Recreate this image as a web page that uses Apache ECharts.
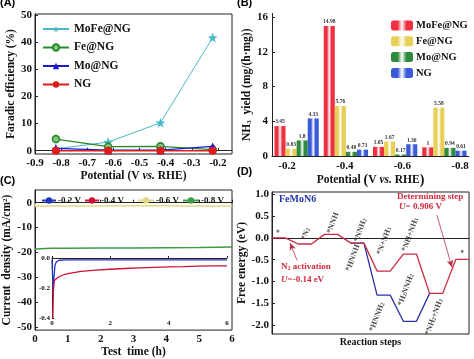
<!DOCTYPE html>
<html><head><meta charset="utf-8">
<script src="https://cdn.jsdelivr.net/npm/echarts@6/dist/echarts.min.js"></script>
<style>html,body{margin:0;padding:0;background:#fff}#c{width:474px;height:359px}</style>
</head><body><div id="c"></div>
<script>
// ---------- Panel A: Faradic efficiency ----------
const potA = [-0.82, -0.62, -0.42, -0.22];
const feMoFe = [0.7, 3.2, 10.3, 41.7];
const feFe = [4.3, 1.5, 1.6, 0.4];
const feMo = [0.9, 0.2, 0.2, 1.6];
const feNG = [0, 0, 0, 0];
// ---------- Panel B: NH3 yield ----------
const potB = ['-0.2', '-0.4', '-0.6', '-0.8'];
const yMoFe = [3.45, 14.98, 1.05, 1];
const yFe = [0.83, 5.76, 1.67, 5.58];
const yMo = [1.8, 0.48, 0.17, 0.94];
const yNG = [4.33, 0.73, 1.36, 0.61];
const potBTicks = [-0.2, -0.4, -0.6, -0.8];
// ---------- Panel C: current density ----------
const t06 = [0, 0.02, 0.1, 0.5, 1, 2, 3, 4, 4.5, 5, 5.5, 6];
const j06 = [-0.3, -1.6, -1.3, -1.3, -1.3, -1.3, -1.25, -1.25, -1.3, -1.35, -1.4, -1.35];
const t08 = [0, 0.05, 0.5, 1, 2, 3, 4, 5, 5.5, 6];
const j08 = [-18.6, -18.3, -18.3, -18.3, -18.2, -18.2, -18.1, -18.0, -17.9, -17.8];
const t02 = [0, 0.02, 0.04, 0.06, 0.1, 0.15, 0.25, 0.5, 1, 2, 3, 4, 5, 6];
const j02 = [-0.01, -0.12, -0.26, -0.15, -0.05, -0.025, -0.015, -0.012, -0.012, -0.012, -0.012, -0.012, -0.012, -0.012];
const t04 = [0.03, 0.05, 0.08, 0.12, 0.2, 0.35, 0.5, 0.75, 1, 1.5, 2, 2.5, 3, 3.5, 4, 4.5, 5, 5.5, 6];
const j04 = [-0.4, -0.2, -0.15, -0.14, -0.13, -0.115, -0.106, -0.097, -0.089, -0.081, -0.075, -0.07, -0.066, -0.062, -0.059, -0.057, -0.054, -0.053, -0.052];
// ---------- Panel D: free energy ----------
const eRed = [0, -0.14, 0.08, -0.12, -0.76, -0.37, -1.27, -0.49];
const eBlue = [null, null, null, -0.12, -1.31, -1.91, -1.27, null];
const stepNames = ['*', '*N{s|2}', '*NNH', '*NNH{s|2}', '*HNNH', '*N+NH{s|3}', '*NH+NH{s|3}', '*HNNH{s|2}', '*H{s|2}NNH{s|2}', '*NH{s|2}+NH{s|3}', '*'];
const stepLabX = [0.29, 1.29, 2.32, 3.37, 3.08, 4.27, 5.26, 4.0, 5.1, 6.17, 7.3];
const stepLabY = [0.14, 0.09, 0.34, 0.18, -0.46, -0.07, 0.07, -1.81, -1.19, -1.81, -0.32];
const arrowDet = [[6.28, 0.52], [6.85, -0.67]];
const arrowN2 = [[0.95, -0.51], [0.69, -0.12]];

const SERIF = "'Liberation Serif','Times New Roman',serif";
const lab = {fontFamily: SERIF, fontWeight: 'bold', fontSize: 11, color: '#111'};
const axLine = {show: true, lineStyle: {color: '#222', width: 1}};
const nameStyle = {fontFamily: SERIF, fontWeight: 'bold', fontSize: 11.5, color: '#111'};

function barGrad(c) {
  return {type: 'linear', x: 0, y: 0, x2: 1, y2: 0, colorStops: [
    {offset: 0, color: c}, {offset: 0.3, color: c}, {offset: 0.5, color: '#ffffff'},
    {offset: 0.7, color: c}, {offset: 1, color: c}]};
}
function zip(a, b) { return a.map((v, i) => [v, b[i]]); }

const redPath = [], bluePath = [];
eRed.forEach((e, i) => { redPath.push([i, e], [i + 0.5, e]); });
eBlue.forEach((e, i) => { if (e !== null) bluePath.push([i, e], [i + 0.5, e]); });
bluePath.pop(); // blue joins red at start of *NH2+NH3 level

const colA = {MoFe: '#4bb8c8', Fe: '#2a8a2a', Mo: '#1a1acc', NG: '#e01a1a'};
const colB = {MoFe: '#ee3040', Fe: '#e8cf55', Mo: '#2e8b3c', NG: '#3a5ad8'};

const chart = echarts.init(document.getElementById('c'), null, {renderer: 'canvas'});
const option = {
  backgroundColor: '#fff',
  animation: false,
  grid: [
    {left: 35, top: 14, width: 197, height: 140, show: true, borderColor: '#222', borderWidth: 1, backgroundColor: 'transparent'},
    {left: 272, top: 13.5, width: 197, height: 142.5},
    {left: 35, top: 190, width: 197, height: 143, show: true, borderColor: '#222', borderWidth: 1, backgroundColor: 'transparent'},
    {left: 52, top: 258, width: 175, height: 60},
    {left: 272, top: 192, width: 197, height: 142, show: true, borderColor: '#222', borderWidth: 1, backgroundColor: 'transparent'}
  ],
  xAxis: [
    {gridIndex: 0, type: 'value', min: -0.9, max: -0.146, interval: 0.1, splitLine: {show: false},
     axisLine: axLine, axisTick: {inside: true, length: 3}, axisLabel: Object.assign({margin: 4, showMaxLabel: false, formatter: v => v.toFixed(1)}, lab),
     name: '{b|Potential (V }{i|vs.}{b| RHE)}', nameLocation: 'middle', nameGap: 13,
     nameTextStyle: {rich: {b: nameStyle, i: Object.assign({}, nameStyle, {fontStyle: 'italic'})}}},
    {gridIndex: 1, type: 'category', data: potB, position: 'bottom', axisLine: axLine, axisTick: {show: false}, axisLabel: {show: false}},
    {gridIndex: 1, type: 'value', inverse: true, min: -0.831, max: -0.148, position: 'bottom', splitLine: {show: false},
     axisLine: {show: false}, axisTick: {show: false},
     axisLabel: Object.assign({margin: 5, showMinLabel: false, showMaxLabel: false,
       formatter: v => potBTicks.some(p => Math.abs(p - v) < 1e-6) ? v.toFixed(1) : ''}, lab),
     name: '{b|Potential }{p|(}{b|V }{i|vs.}{b| RHE}{p|)}', nameLocation: 'middle', nameGap: 13,
     nameTextStyle: {rich: {b: nameStyle, i: Object.assign({}, nameStyle, {fontStyle: 'italic'}), p: Object.assign({}, nameStyle, {fontSize: 14})}}},
    {gridIndex: 2, type: 'value', min: 0, max: 6, interval: 1, splitLine: {show: false},
     axisLine: axLine, axisTick: {inside: true, length: 3}, axisLabel: Object.assign({margin: 4}, lab),
     name: 'Test  time (h)', nameLocation: 'middle', nameGap: 13, nameTextStyle: nameStyle},
    {gridIndex: 3, type: 'value', min: 0, max: 6, interval: 2, splitLine: {show: false},
     axisLine: axLine, axisTick: {inside: true, length: 2},
     axisLabel: {fontFamily: SERIF, fontWeight: 'bold', fontSize: 7, color: '#111', margin: 2}},
    {gridIndex: 4, type: 'value', min: 0, max: 7.5, splitLine: {show: false},
     axisLine: axLine, axisTick: {show: false}, axisLabel: {show: false},
     name: 'Reaction steps', nameLocation: 'middle', nameGap: 3, nameTextStyle: Object.assign({}, nameStyle, {fontSize: 10})}
  ],
  yAxis: [
    {gridIndex: 0, type: 'value', min: -1.2, max: 50.4, splitLine: {show: false},
     axisLine: axLine, axisTick: {inside: true, length: 3},
     axisLabel: Object.assign({margin: 3, showMinLabel: false, showMaxLabel: false}, lab),
     name: 'Faradic efficiency (%)', nameLocation: 'middle', nameGap: 17, nameTextStyle: nameStyle},
    {gridIndex: 1, type: 'value', min: 0, max: 16.43, interval: 4, splitLine: {show: false},
     axisLine: axLine, axisTick: {inside: true, length: 3},
     axisLabel: Object.assign({margin: 4, showMaxLabel: false}, lab),
     name: 'NH{s|3}  yield (mg/(h·mg))', nameLocation: 'middle', nameGap: 16,
     nameTextStyle: {rich: {s: Object.assign({}, nameStyle, {fontSize: 7, verticalAlign: 'bottom'})}, fontFamily: SERIF, fontWeight: 'bold', fontSize: 11.5, color: '#111'}},
    {gridIndex: 2, type: 'value', min: -51.2, max: 5.1, splitLine: {show: false},
     axisLine: axLine, axisTick: {inside: true, length: 3},
     axisLabel: Object.assign({margin: 3, showMinLabel: false, showMaxLabel: false}, lab),
     name: 'Current  density (mA/cm{p|2})', nameLocation: 'middle', nameGap: 21,
     nameTextStyle: {rich: {p: Object.assign({}, nameStyle, {fontSize: 7, verticalAlign: 'top'})}, fontFamily: SERIF, fontWeight: 'bold', fontSize: 11.5, color: '#111'}},
    {gridIndex: 3, type: 'value', min: -0.4, max: 0, interval: 0.2, splitLine: {show: false},
     axisLine: axLine, axisTick: {inside: true, length: 2},
     axisLabel: {fontFamily: SERIF, fontWeight: 'bold', fontSize: 7, color: '#111', margin: 2, formatter: v => v.toFixed(1)}},
    {gridIndex: 4, type: 'value', min: -2.2, max: 1.05, splitLine: {show: false},
     axisLine: axLine, axisTick: {inside: true, length: 3},
     axisLabel: Object.assign({margin: 3, showMinLabel: false, showMaxLabel: false, formatter: v => v.toFixed(1)}, lab),
     name: 'Free energy (eV)', nameLocation: 'middle', nameGap: 24, nameTextStyle: nameStyle}
  ],
  legend: [
    {orient: 'vertical', left: 37, top: 18, itemWidth: 26, itemHeight: 8, itemGap: 6.5,
     data: ['MoFe@NG', 'Fe@NG', 'Mo@NG', 'NG'], textStyle: {fontFamily: SERIF, fontWeight: 'bold', fontSize: 11.5, color: '#111'}},
    {orient: 'vertical', left: 386, top: 15, itemWidth: 22, itemHeight: 10, itemGap: 4.8,
     data: ['MoFe@NG ', 'Fe@NG ', 'Mo@NG ', 'NG '], formatter: n => n.trim(),
     textStyle: {fontFamily: SERIF, fontWeight: 'bold', fontSize: 10.5, color: '#111', padding: [0, 0, 0, -2]}},
    {orient: 'horizontal', left: 36, top: 191, itemWidth: 14, itemHeight: 8, itemGap: 3,
     data: ['-0.2 V', '-0.4 V'], textStyle: {fontFamily: SERIF, fontWeight: 'bold', fontSize: 9, color: '#111', padding: [0, 0, 0, -3]}},
    {orient: 'horizontal', left: 132, top: 191, itemWidth: 16, itemHeight: 8, itemGap: 3,
     data: ['-0.6 V', '-0.8 V'], textStyle: {fontFamily: SERIF, fontWeight: 'bold', fontSize: 9, color: '#111', padding: [0, 0, 0, -3]}}
  ],
  series: [
    // Panel A
    {name: 'MoFe@NG', type: 'line', xAxisIndex: 0, yAxisIndex: 0, data: zip(potA, feMoFe), symbol: 'path://M0,-10L2.35,-3.24L9.51,-3.09L3.80,1.24L5.88,8.09L0,4L-5.88,8.09L-3.80,1.24L-9.51,-3.09L-2.35,-3.24Z', symbolSize: 10,
     lineStyle: {color: colA.MoFe, width: 1}, itemStyle: {color: colA.MoFe}, z: 3},
    {name: 'Fe@NG', type: 'line', xAxisIndex: 0, yAxisIndex: 0, data: zip(potA, feFe), symbol: 'circle', symbolSize: 7,
     lineStyle: {color: colA.Fe, width: 1.3}, itemStyle: {color: '#7dc67d', borderColor: colA.Fe, borderWidth: 1.6}, z: 4},
    {name: 'Mo@NG', type: 'line', xAxisIndex: 0, yAxisIndex: 0, data: zip(potA, feMo), symbol: 'triangle', symbolSize: 8,
     lineStyle: {color: colA.Mo, width: 1.3}, itemStyle: {color: colA.Mo}, z: 5},
    {name: 'NG', type: 'line', xAxisIndex: 0, yAxisIndex: 0, data: zip(potA, feNG), symbol: 'circle', symbolSize: 8,
     lineStyle: {color: colA.NG, width: 1.3}, itemStyle: {color: colA.NG}, z: 6},
    // Panel B
    ...[['MoFe@NG ', yMoFe, colB.MoFe], ['Fe@NG ', yFe, colB.Fe], ['Mo@NG ', yMo, colB.Mo], ['NG ', yNG, colB.NG]].map(([n, d, c]) => ({
      name: n, type: 'bar', xAxisIndex: 1, yAxisIndex: 1, data: d, barGap: '0%', barCategoryGap: '10%',
      itemStyle: {color: barGrad(c)},
      label: {show: true, position: 'top', distance: 1, fontFamily: SERIF, fontWeight: 'bold', fontSize: 5.5, color: '#333'}
    })),
    {type: 'scatter', xAxisIndex: 2, yAxisIndex: 1, data: [], silent: true},
    // Panel C main
    {name: '-0.6 V', type: 'line', xAxisIndex: 3, yAxisIndex: 2, data: zip(t06, j06), symbol: 'none', lineStyle: {color: '#e5d78a', width: 1.5}, itemStyle: {color: '#e5d78a'}},
    {name: '-0.8 V', type: 'line', xAxisIndex: 3, yAxisIndex: 2, data: zip(t08, j08), symbol: 'none', lineStyle: {color: '#3d9a45', width: 1.5}, itemStyle: {color: '#3d9a45'}},
    // Panel C inset
    {name: '-0.2 V', type: 'line', xAxisIndex: 4, yAxisIndex: 3, data: zip(t02, j02), symbol: 'none', lineStyle: {color: '#2233bb', width: 1.3}, itemStyle: {color: '#2233bb'}},
    {name: '-0.4 V', type: 'line', xAxisIndex: 4, yAxisIndex: 3, data: zip(t04, j04), symbol: 'none', lineStyle: {color: '#cc1133', width: 1.3}, itemStyle: {color: '#cc1133'}},
    // Panel D
    {name: 'dBlue', type: 'line', xAxisIndex: 5, yAxisIndex: 4, data: bluePath, symbol: 'none', lineStyle: {color: '#2a30a8', width: 1.3}},
    {name: 'dRed', type: 'line', xAxisIndex: 5, yAxisIndex: 4, data: redPath, symbol: 'none', lineStyle: {color: '#cc2a40', width: 1.3}, z: 3,
     markLine: {silent: true, symbol: ['none', 'arrow'], symbolSize: [5, 7], animation: false,
       lineStyle: {color: '#b8304c', width: 0.8, type: 'solid'}, label: {show: false}, emphasis: {disabled: true},
       data: [[{coord: arrowDet[0]}, {coord: arrowDet[1]}], [{coord: arrowN2[0]}, {coord: arrowN2[1]}]]}},
    {name: 'dLabels', type: 'scatter', xAxisIndex: 5, yAxisIndex: 4, symbolSize: 0, silent: true,
     data: stepNames.map((n, i) => ({value: [stepLabX[i], stepLabY[i]], name: n})),
     label: {show: true, position: 'inside', rotate: 70, formatter: p => p.name,
       fontFamily: SERIF, fontWeight: 'bold', fontSize: 8, color: '#111',
       rich: {s: {fontFamily: SERIF, fontWeight: 'bold', fontSize: 5.5, color: '#111', verticalAlign: 'bottom'}}}}
  ],
  graphic: [
    {type: 'text', left: 0, top: -3, style: {text: '(A)', font: 'bold 11px "Liberation Sans", Arial, sans-serif', fill: '#000'}},
    {type: 'text', left: 237, top: -3, style: {text: '(B)', font: 'bold 11px "Liberation Sans", Arial, sans-serif', fill: '#000'}},
    {type: 'text', left: 0, top: 175, style: {text: '(C)', font: 'bold 11px "Liberation Sans", Arial, sans-serif', fill: '#000'}},
    {type: 'text', left: 237, top: 166, style: {text: '(D)', font: 'bold 11px "Liberation Sans", Arial, sans-serif', fill: '#000'}},
    {type: 'text', left: 279, top: 194, style: {text: 'FeMoN6', font: 'bold 10px ' + SERIF, fill: '#2233aa'}},
    {type: 'text', left: 397, top: 192, style: {text: 'Determining step', font: 'bold 9px ' + SERIF, fill: '#d0283c'}},
    {type: 'text', left: 399, top: 202, style: {text: '{i|U}= 0.906 V', font: 'bold 9px ' + SERIF, fill: '#d0283c',
      rich: {i: {fontStyle: 'italic', fontWeight: 'bold', fontSize: 9, fontFamily: SERIF, fill: '#d0283c'}}}},
    {type: 'text', left: 281, top: 262, style: {text: 'N{s|2} activation', font: 'bold 9px ' + SERIF, fill: '#d0283c',
      rich: {s: {fontSize: 6, fontWeight: 'bold', fontFamily: SERIF, fill: '#d0283c', verticalAlign: 'bottom'}}}},
    {type: 'text', left: 281, top: 275, style: {text: '{i|U}=-0.14 eV', font: 'bold 9px ' + SERIF, fill: '#d0283c',
      rich: {i: {fontStyle: 'italic', fontWeight: 'bold', fontSize: 9, fontFamily: SERIF, fill: '#d0283c'}}}}
  ]
};
chart.setOption(option);
</script></body></html>
